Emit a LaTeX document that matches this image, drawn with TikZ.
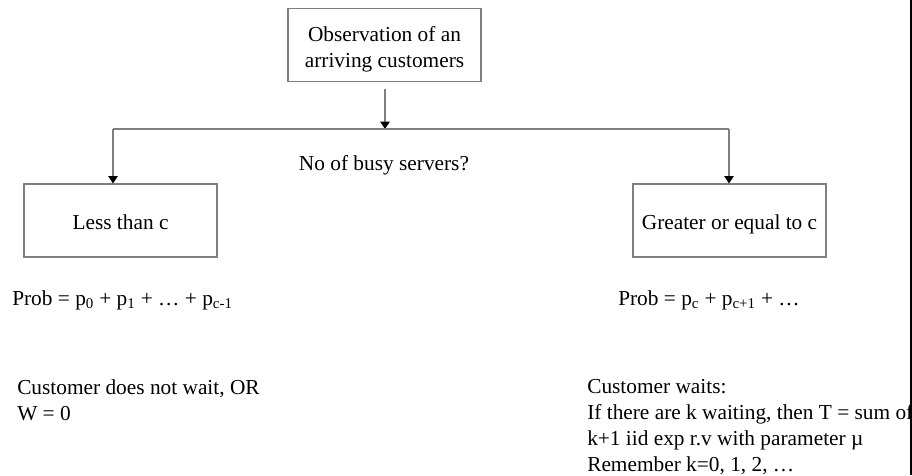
\documentclass[tikz,border=0pt]{standalone}
\usepackage{fontspec}
\setmainfont{Liberation Serif}
\usetikzlibrary{arrows.meta, positioning}
\definecolor{linegray}{RGB}{128,128,128}

\begin{document}
\begin{tikzpicture}[
    x=0.75pt, y=-0.75pt,
    font=\fontsize{16}{19.5}\selectfont,
    box/.style={draw=linegray, line width=0.8pt, minimum width=144.75pt, minimum height=54.75pt, align=center, inner sep=0pt},
    label/.style={anchor=base west, align=left, inner sep=0pt},
    conn/.style={draw=linegray, line width=0.8pt},
    arrow/.style={conn, -{Triangle[length=5.5pt, width=7pt, color=black]}}
]
    \useasboundingbox (0,0) rectangle (912,475);

    % Top box
    \node[box] (obs) at (384.5,45) {\rule{0pt}{17pt}Observation of an\\arriving customers};

    % Split line
    \coordinate (jm) at (385,129);
    \coordinate (jl) at (113,129);
    \coordinate (jr) at (729,129);
    \draw[arrow, shorten <=5.25pt] (obs.south -| jm) -- (jm);
    \draw[conn] (jl) -- (jr);
    \node[anchor=base] (question) at (384,170) {No of busy servers?};

    % Two cases
    \node[box, text height=16pt, text depth=2pt] (less) at (120.5,220.5) {Less than c};
    \node[box, text height=16pt, text depth=2pt] (more) at (729.5,220.5) {Greater or equal to c};
    \draw[arrow] (jl) -- (jl |- less.north);
    \draw[arrow] (jr) -- (jr |- more.north);

    % Probabilities
    \node[label] (probl) at (12,305) {Prob = p\textsubscript{0} + p\textsubscript{1} + … + p\textsubscript{c-1}};
    \node[label] (probr) at (618,305) {Prob = p\textsubscript{c} + p\textsubscript{c+1} + …};

    % Outcomes
    \node[label] (nowait) at (17,420) {Customer does not wait, OR\\W = 0};
    \node[label] (wait) at (587,471) {Customer waits:\\If there are k waiting, then T = sum of\\k+1 iid exp r.v with parameter µ\\Remember k=0, 1, 2, …};

    % Edge bar
    \fill (910,0) rectangle (912,475);
\end{tikzpicture}
\end{document}
